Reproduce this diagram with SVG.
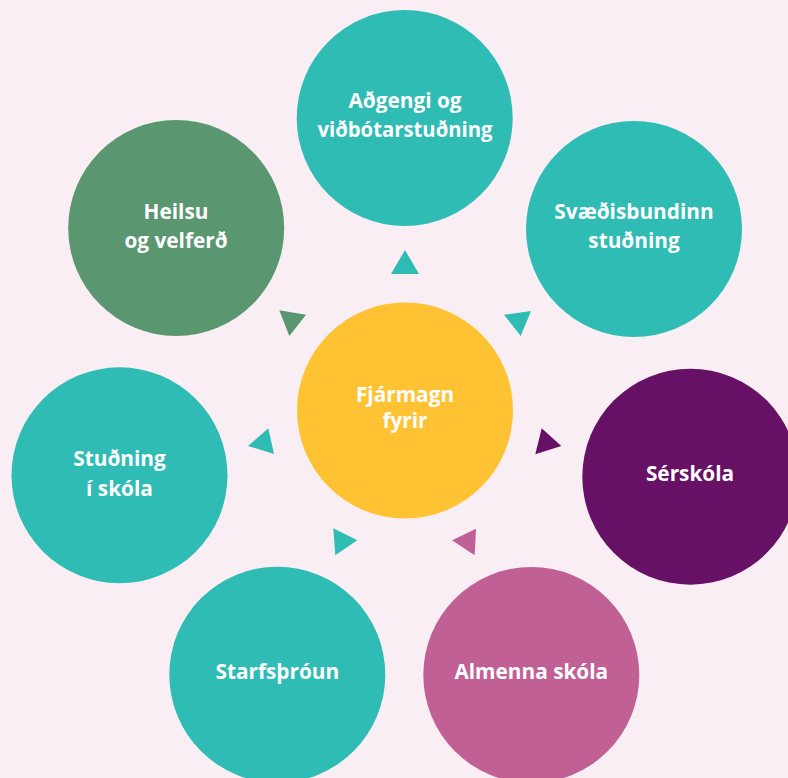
<svg xmlns="http://www.w3.org/2000/svg" width="788" height="778" viewBox="0 0 788 778">
<style>
text{font-family:"Open Sans","Noto Sans","Liberation Sans",sans-serif;font-weight:700;font-size:20.8px;fill:#ffffff;text-anchor:middle}
.teal{fill:#2EBCB5}.green{fill:#5A9670}.yellow{fill:#FFC233}.purple{fill:#661166}.pink{fill:#C06094}
</style>
<rect width="788" height="778" fill="#FAEEF5"/>
<g id="connectors">
<polygon class="teal" points="405,250 391,274 419,274"/>
<polygon class="green" points="279.3,310.3 306,314.7 289.3,336"/>
<polygon class="teal" points="504,314.7 531,311 520.7,336"/>
<polygon class="teal" points="268.3,428.3 248,446 274,454"/>
<polygon class="purple" points="541.7,428.3 561.3,446 535.3,454.3"/>
<polygon class="teal" points="333.3,528.3 357.3,540.3 335.3,555.3"/>
<polygon class="pink" points="476,528.7 452,540.3 474.7,555.3"/>
</g>
<g id="node-center">
<circle class="yellow" cx="405" cy="410.5" r="108"/>
<text x="405" y="402">Fjármagn</text>
<text x="405" y="428.3">fyrir</text>
</g>
<g id="node-top">
<circle class="teal" cx="404.7" cy="118" r="108"/>
<text x="405" y="108.3">Aðgengi og</text>
<text x="405" y="136.7" textLength="175" lengthAdjust="spacingAndGlyphs">viðbótarstuðning</text>
</g>
<g id="node-top-right">
<circle class="teal" cx="634" cy="229" r="108"/>
<text x="634" y="219.3">Svæðisbundinn</text>
<text x="634" y="247.7">stuðning</text>
</g>
<g id="node-top-left">
<circle class="green" cx="176.2" cy="228" r="108"/>
<text x="176" y="219.3">Heilsu</text>
<text x="176" y="247.7">og velferð</text>
</g>
<g id="node-left">
<circle class="teal" cx="119.5" cy="475.3" r="108"/>
<text x="119.5" y="466">Stuðning</text>
<text x="119.5" y="496">í skóla</text>
</g>
<g id="node-right">
<circle class="purple" cx="690.3" cy="476.7" r="108"/>
<text x="690" y="481">Sérskóla</text>
</g>
<g id="node-bottom-left">
<circle class="teal" cx="277.3" cy="674.7" r="108"/>
<text x="277.3" y="679.3">Starfsþróun</text>
</g>
<g id="node-bottom-right">
<circle class="pink" cx="531.3" cy="675" r="108"/>
<text x="531.3" y="679.3">Almenna skóla</text>
</g>
</svg>
